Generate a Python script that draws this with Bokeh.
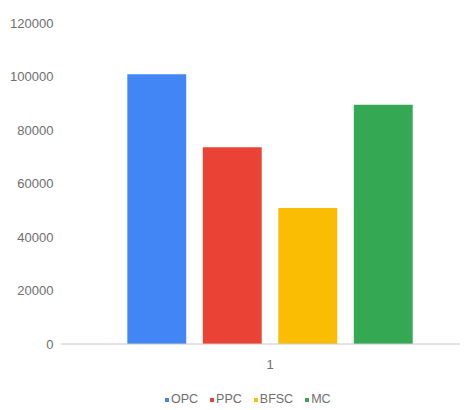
from bokeh.plotting import figure
from bokeh.models import (Range1d, FixedTicker, Legend, LegendItem, ColumnDataSource,
                          Span, Label, NumeralTickFormatter)
from bokeh.embed import file_html
from bokeh.resources import INLINE

categories = ["1"]
series = ["OPC", "PPC", "BFSC", "MC"]
values = [101000, 73700, 50900, 89600]
colors = ["#4285F4", "#EA4335", "#FBBC04", "#34A853"]
y_ticks = [0, 20000, 40000, 60000, 80000, 100000, 120000]

FONT = "Liberation Sans Narrow, Arial Narrow, Liberation Sans, sans-serif"
TXT = "#6e6e6e"

# frame spans from the top tick to the window bottom; baseline sits above the bottom
y_top = 120000
y_bottom = -66.5 / 320.5 * y_top

p = figure(width=465, height=410, output_backend="svg", toolbar_location=None,
           x_range=Range1d(-2.775, 2.523), y_range=Range1d(y_bottom, y_top),
           x_axis_location=None,
           min_border_left=60, min_border_right=5, min_border_top=23, min_border_bottom=0)
p.outline_line_color = None
p.grid.visible = False
p.background_fill_color = "white"

# baseline axis line
p.add_layout(Span(location=0, dimension="width", line_color="#c8c8c8", line_width=1))

items = []
for i, (name, v, c) in enumerate(zip(series, values, colors)):
    x = 0 + (i - 1.5) * 1.0
    src = ColumnDataSource(dict(x=[x], top=[v]))
    r = p.vbar(x="x", top="top", bottom=0, width=0.78, fill_color=c, line_color=None, source=src)
    items.append(LegendItem(label=name, renderers=[r]))

p.yaxis.ticker = FixedTicker(ticks=y_ticks)
p.yaxis.formatter = NumeralTickFormatter(format="0")
p.yaxis.axis_line_color = None
p.yaxis.major_tick_line_color = None
p.yaxis.minor_tick_line_color = None
p.yaxis.major_tick_out = 0
p.yaxis.major_tick_in = 0
p.yaxis.major_label_standoff = 7
p.yaxis.major_label_text_font = FONT
p.yaxis.major_label_text_font_size = "13px"
p.yaxis.major_label_text_color = TXT

# category label under the baseline
p.add_layout(Label(x=0, y=0, text=categories[0], y_offset=-20, text_align="center",
                   text_baseline="middle",
                   text_font=FONT, text_font_size="13px", text_color=TXT))

legend = Legend(items=items, orientation="horizontal", location=(104, 4),
                glyph_width=5, glyph_height=5, label_text_font=FONT,
                label_text_font_size="12.5px", label_text_color=TXT,
                spacing=11, label_standoff=2, border_line_color=None,
                background_fill_alpha=0, padding=1, margin=0, label_height=12)
p.add_layout(legend, "center")

open("out.html", "w").write(file_html(p, INLINE))
